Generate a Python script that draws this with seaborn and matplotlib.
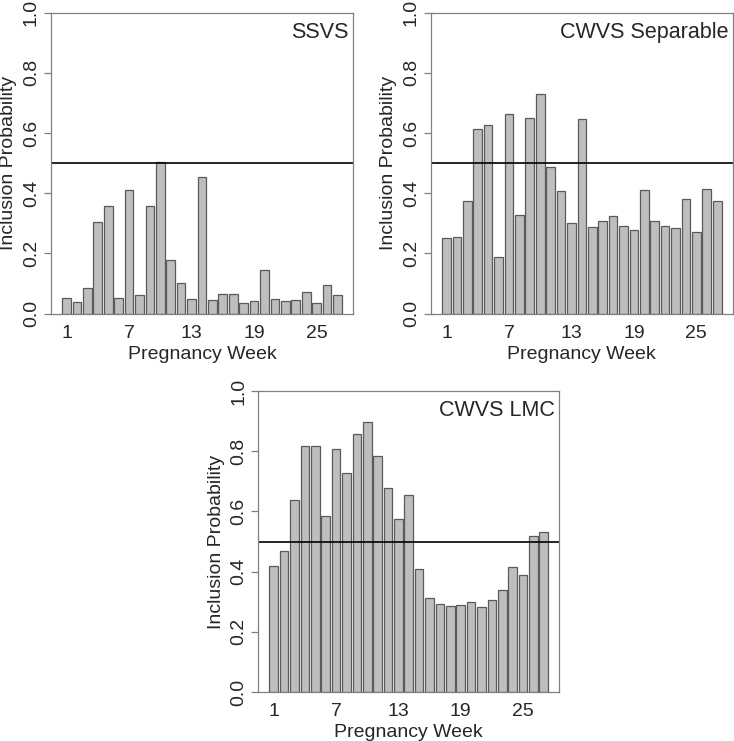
import numpy as np
import pandas as pd
import matplotlib
matplotlib.use('Agg')
import matplotlib.pyplot as plt
import seaborn as sns

sns.set_style('white')
plt.rcParams['font.family'] = ['Liberation Sans', 'DejaVu Sans']

weeks = list(range(1, 28))

ssvs = [0.051, 0.038, 0.084, 0.303, 0.357, 0.052, 0.410, 0.062, 0.359, 0.503,
        0.177, 0.103, 0.050, 0.453, 0.047, 0.064, 0.064, 0.035, 0.041, 0.144,
        0.048, 0.041, 0.045, 0.071, 0.035, 0.094, 0.063]

cwvs_sep = [0.250, 0.254, 0.373, 0.615, 0.626, 0.187, 0.664, 0.327, 0.650, 0.729,
            0.486, 0.406, 0.300, 0.646, 0.288, 0.309, 0.323, 0.290, 0.279, 0.410,
            0.307, 0.290, 0.286, 0.380, 0.270, 0.414, 0.373]

cwvs_lmc = [0.419, 0.467, 0.637, 0.818, 0.816, 0.586, 0.807, 0.726, 0.857, 0.896,
            0.784, 0.677, 0.575, 0.653, 0.408, 0.311, 0.293, 0.286, 0.288, 0.300,
            0.281, 0.306, 0.339, 0.414, 0.388, 0.520, 0.530]

titles = ['SSVS', 'CWVS Separable', 'CWVS LMC']
tick_weeks = [1, 7, 13, 19, 25]
y_ticks = [0.0, 0.2, 0.4, 0.6, 0.8, 1.0]


def draw_panel(ax, values, title):
    """ Draw one panel of inclusion probabilities by pregnancy week.
    """
    df = pd.DataFrame({'week': weeks, 'prob': values})
    sns.barplot(data=df, x='week', y='prob', color='#bebebe', saturation=1,
                width=0.833, edgecolor='#5a5a5a', linewidth=0.9, ax=ax)
    ax.axhline(0.5, color='black', linewidth=1.2)
    ax.set_ylim(0, 1)
    ax.set_xlim(-1.49, 27.49)
    ax.set_yticks(y_ticks)
    ax.set_yticklabels([f'{t:.1f}' for t in y_ticks], rotation=90,
                       va='center', fontsize=14)
    ax.set_xticks([w - 1 for w in tick_weeks])
    ax.set_xticklabels([str(w) for w in tick_weeks], fontsize=14)
    ax.tick_params(axis='y', length=5, width=0.9, color='#808080', pad=3,
                   left=True)
    ax.tick_params(axis='x', length=0, pad=8)
    for sp in ax.spines.values():
        sp.set_color('#808080')
        sp.set_linewidth(0.9)
    ax.set_xlabel('Pregnancy Week', fontsize=14, labelpad=3)
    ax.set_ylabel('Inclusion Probability', fontsize=14, labelpad=4)
    ax.text(0.985, 0.935, title, transform=ax.transAxes, ha='right',
            va='center', fontsize=15.5)


fig = plt.figure(figsize=(7.34, 7.41), dpi=100)
ax1 = fig.add_axes([0.0695, 0.5767, 0.4114, 0.4062])
ax2 = fig.add_axes([0.5872, 0.5767, 0.4110, 0.4062])
ax3 = fig.add_axes([0.3519, 0.0661, 0.4100, 0.4062])

draw_panel(ax1, ssvs, titles[0])
draw_panel(ax2, cwvs_sep, titles[1])
draw_panel(ax3, cwvs_lmc, titles[2])

fig.savefig('out.png', dpi=100)
